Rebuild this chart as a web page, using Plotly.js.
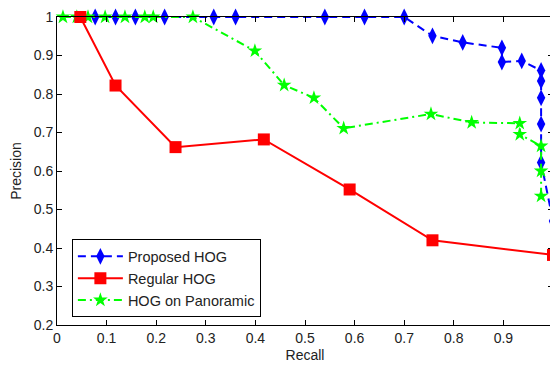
<!DOCTYPE html>
<html>
<head>
<meta charset="utf-8">
<script src="https://cdn.plot.ly/plotly-3.0.1.min.js"></script>
<style>
html,body{margin:0;padding:0;overflow:hidden;background:#fff;}
#chart{width:553px;height:365px;}
</style>
</head>
<body>
<div id="chart"></div>
<script>
// Proposed HOG
var propRecall = [0.077, 0.118, 0.158, 0.217, 0.316, 0.36, 0.54, 0.62, 0.70, 0.757, 0.818, 0.897, 0.897, 0.937, 0.976, 0.976, 0.976, 0.976, 0.976, 1.0];
var propPrec   = [1, 1, 1, 1, 1, 1, 1, 1, 1, 0.951, 0.934, 0.920, 0.883, 0.886, 0.861, 0.834, 0.790, 0.722, 0.622, 0.47];
// Regular HOG
var regRecall = [0.047, 0.118, 0.239, 0.417, 0.59, 0.757, 1.0];
var regPrec   = [1, 0.822, 0.662, 0.682, 0.552, 0.42, 0.382];
// HOG on Panoramic
var panRecall = [0.012, 0.04, 0.0625, 0.097, 0.137, 0.177, 0.194, 0.274, 0.399, 0.458, 0.518, 0.578, 0.754, 0.836, 0.933, 0.933, 0.976, 0.976, 0.976];
var panPrec   = [1, 1, 1, 1, 1, 1, 1, 1, 0.912, 0.823, 0.790, 0.711, 0.748, 0.726, 0.724, 0.695, 0.665, 0.600, 0.535];

var xTicks = [0, 0.1, 0.2, 0.3, 0.4, 0.5, 0.6, 0.7, 0.8, 0.9];
var xTickText = ["0", "0.1", "0.2", "0.3", "0.4", "0.5", "0.6", "0.7", "0.8", "0.9"];
var yTicks = [0.2, 0.3, 0.4, 0.5, 0.6, 0.7, 0.8, 0.9, 1];
var yTickText = ["0.2", "0.3", "0.4", "0.5", "0.6", "0.7", "0.8", "0.9", "1"];

var traces = [
  {x: propRecall, y: propPrec, name: 'Proposed HOG', legendrank: 1, type: 'scatter', mode: 'lines+markers', cliponaxis: false,
   line: {color: '#0000ff', width: 2, dash: '8px,5px'},
   marker: {symbol: 'diamond-tall', size: 12, color: '#0000ff'}},
  {x: panRecall, y: panPrec, name: 'HOG on Panoramic', legendrank: 3, type: 'scatter', mode: 'lines+markers', cliponaxis: false,
   line: {color: '#00ff00', width: 2, dash: '8px,4px,2px,4px'},
   marker: {symbol: 'star', size: 11, color: '#00ff00'}},
  {x: regRecall, y: regPrec, name: 'Regular HOG', legendrank: 2, type: 'scatter', mode: 'lines+markers', cliponaxis: false,
   line: {color: '#ff0000', width: 2},
   marker: {symbol: 'square', size: 12, color: '#ff0000'}}
];

var fontFam = '"Liberation Sans", Arial, sans-serif';
var layout = {
  width: 553, height: 365,
  margin: {l: 57, r: 0, t: 17, b: 40, pad: 0},
  paper_bgcolor: '#ffffff', plot_bgcolor: '#ffffff',
  font: {family: fontFam, size: 14, color: '#222'},
  showlegend: true,
  legend: {x: 0.03, y: 0.278, xanchor: 'left', yanchor: 'top',
           bgcolor: '#ffffff', bordercolor: '#000', borderwidth: 1,
           itemwidth: 45, traceorder: 'normal',
           font: {family: fontFam, size: 14.5, color: '#222'}},
  xaxis: {range: [0, 1], tickvals: xTicks, ticktext: xTickText,
          showgrid: false, zeroline: false, showline: true, linecolor: '#000', linewidth: 1,
          mirror: 'ticks', ticks: 'inside', ticklen: 5, tickcolor: '#000',
          title: {text: 'Recall', font: {family: fontFam, size: 14, color: '#222'}, standoff: 5}},
  yaxis: {range: [0.2, 1], tickvals: yTicks, ticktext: yTickText,
          showgrid: false, zeroline: false, showline: true, linecolor: '#000', linewidth: 1,
          mirror: 'ticks', ticks: 'inside', ticklen: 5, tickcolor: '#000',
          title: {text: 'Precision', font: {family: fontFam, size: 14, color: '#222'}, standoff: 8}}
};

Plotly.newPlot('chart', traces, layout, {displayModeBar: false, staticPlot: true});
</script>
</body>
</html>
